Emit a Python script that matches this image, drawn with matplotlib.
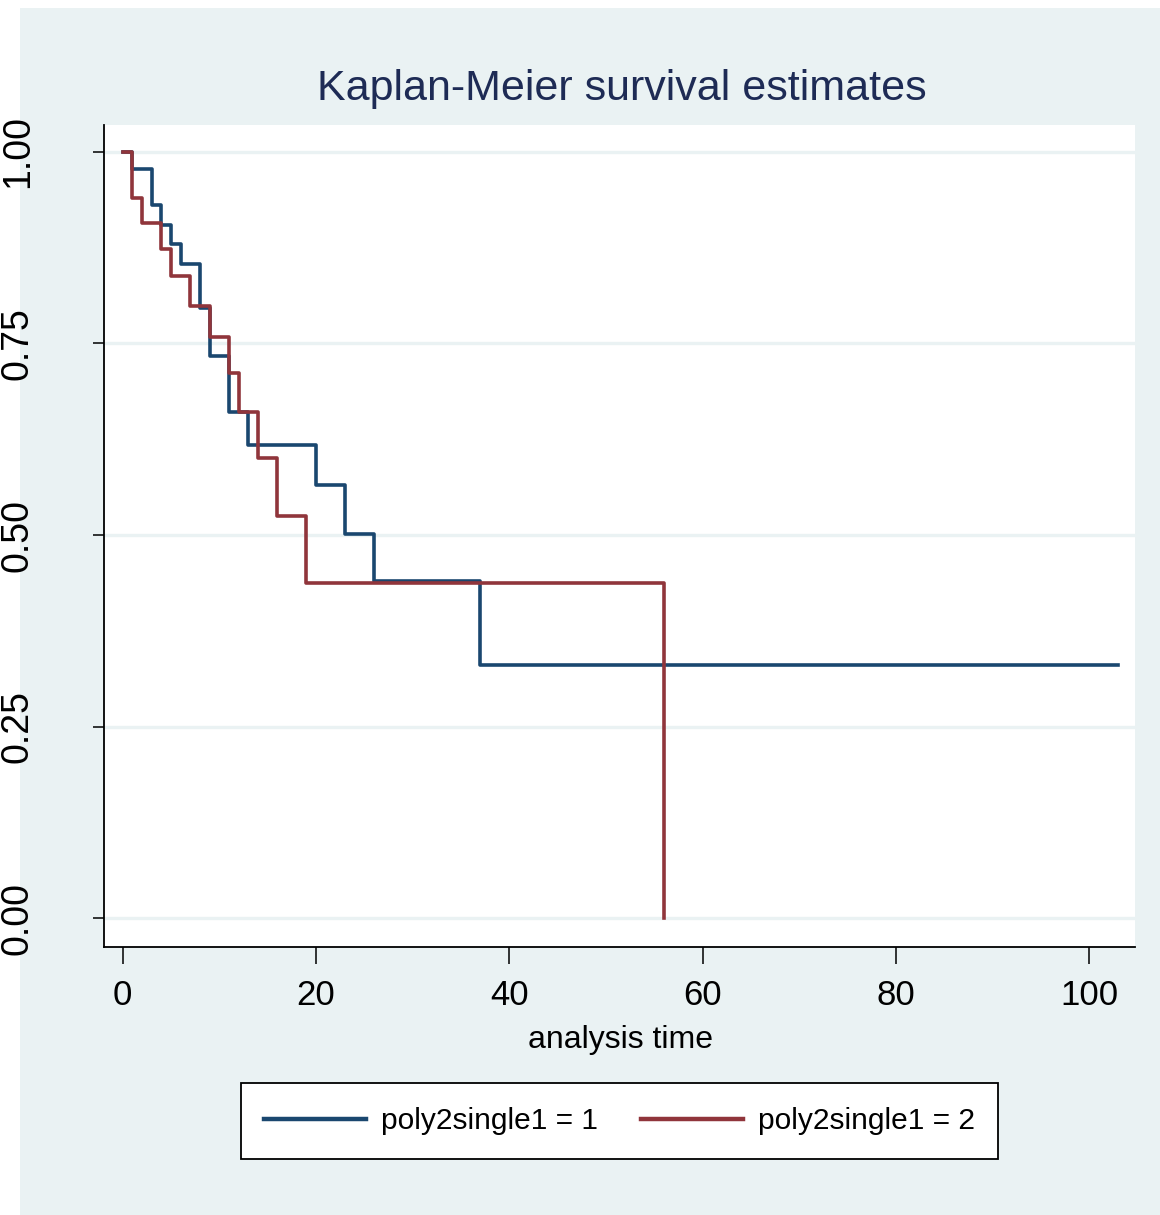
import matplotlib
matplotlib.use("Agg")
import matplotlib.pyplot as plt
from matplotlib import font_manager
from matplotlib.patches import Rectangle

# Kaplan-Meier step data
time_g1 = [0, 1, 3, 4, 5, 6, 8, 9, 11, 13, 20, 23, 26, 37, 103]
surv_g1 = [1.0, 0.977, 0.930, 0.905, 0.880, 0.853, 0.796, 0.734, 0.661,
           0.618, 0.565, 0.502, 0.440, 0.330, 0.330]
time_g2 = [0, 1, 2, 4, 5, 7, 9, 11, 12, 14, 16, 19, 56]
surv_g2 = [1.0, 0.940, 0.907, 0.873, 0.838, 0.799, 0.758, 0.711, 0.660,
           0.601, 0.525, 0.437, 0.0]
labels = ["poly2single1 = 1", "poly2single1 = 2"]
x_ticks = [0, 20, 40, 60, 80, 100]
y_ticks = [0.0, 0.25, 0.5, 0.75, 1.0]
y_tick_labels = ["0.00", "0.25", "0.50", "0.75", "1.00"]

names = {f.name for f in font_manager.fontManager.ttflist}
font = "Liberation Sans Narrow" if "Liberation Sans Narrow" in names else "Liberation Sans"

bg = "#eaf2f3"
blue = "#1a476f"
red = "#90353b"
W, H = 1160, 1215

fig = plt.figure(figsize=(W / 100, H / 100), dpi=100, facecolor="white")
fig.patches.append(Rectangle((20 / W, 0), 1 - 20 / W, 1 - 8 / H,
                             transform=fig.transFigure, facecolor=bg,
                             edgecolor="none", zorder=-10))

ax = fig.add_axes([104 / W, 1 - 946.7 / H, 1031 / W, 821.7 / H])
ax.set_facecolor("white")

for y in y_ticks:
    ax.axhline(y, color=bg, lw=2.4, zorder=0)

ax.step(time_g1, surv_g1, where="post", color=blue, lw=2.6, label=labels[0], zorder=3)
ax.step(time_g2, surv_g2, where="post", color=red, lw=2.6, label=labels[1], zorder=4)

ax.set_xlim(-1.93, 104.72)
ax.set_ylim(-0.0368, 1.0348)

for s in ["top", "right"]:
    ax.spines[s].set_visible(False)
for s in ["left", "bottom"]:
    ax.spines[s].set_linewidth(1.3)
    ax.spines[s].set_color("black")

ax.set_xticks(x_ticks)
ax.set_xticklabels([str(t) for t in x_ticks], fontfamily=font, fontsize=25)
ax.tick_params(axis="x", length=12, width=1.1, pad=11)
ax.set_yticks(y_ticks)
ax.set_yticklabels([])
ax.tick_params(axis="y", length=8, width=1.1)

# rotated y tick labels along the left edge
for y, lab in zip(y_ticks, y_tick_labels):
    py = ax.transData.transform((0, y))[1]
    fig.text(36 / W, py / H, lab, rotation=90, ha="right", va="center",
             fontfamily="Liberation Sans", fontsize=27, color="black")

fig.text(622 / W, 1 - 100 / H, "Kaplan-Meier survival estimates", ha="center",
         va="baseline", fontfamily=font, fontsize=31, color="#1e2b55")
fig.text(620 / W, 1 - 1048 / H, "analysis time", ha="center", va="baseline",
         fontfamily=font, fontsize=23, color="black")

leg = ax.legend(loc="center", bbox_to_anchor=(619.5 / W, 1 - 1121 / H),
                bbox_transform=fig.transFigure, ncol=2, frameon=True,
                fancybox=False, framealpha=1, prop={"family": font, "size": 21.5},
                handlelength=3.4, handletextpad=0.5, columnspacing=1.45,
                borderpad=0.8)
leg.get_frame().set_edgecolor("black")
leg.get_frame().set_linewidth(1.3)
leg.get_frame().set_facecolor("white")
for line in leg.get_lines():
    line.set_linewidth(3.2)

fig.savefig("out.png", dpi=100, facecolor="white")
